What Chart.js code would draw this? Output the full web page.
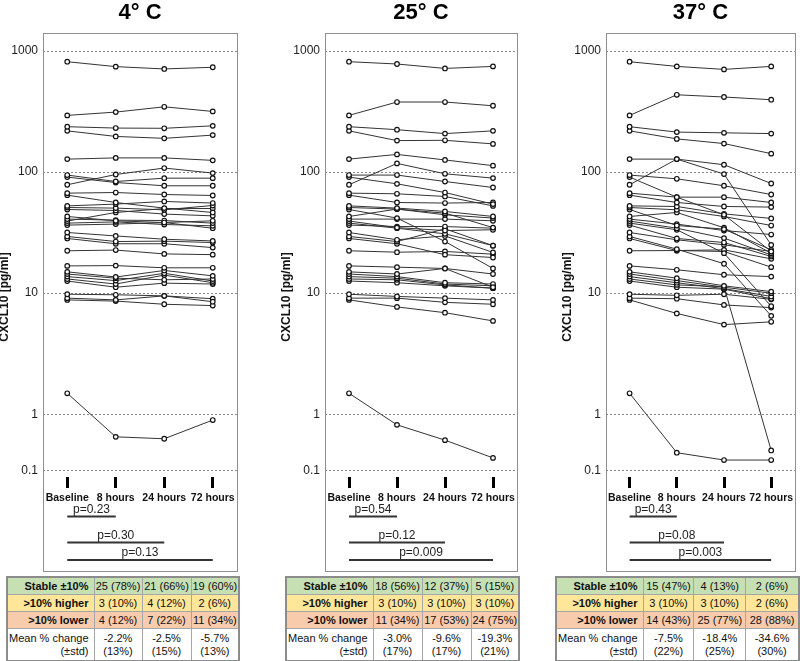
<!DOCTYPE html>
<html>
<head>
<meta charset="utf-8">
<title>CXCL10 stability by storage temperature</title>
<script src="https://cdn.jsdelivr.net/npm/chart.js@4.4.0/dist/chart.umd.min.js"></script>
<style>
  body { margin: 0; background: #fff; }
  #page { position: relative; width: 800px; height: 661px; overflow: hidden; }
  canvas.panel { position: absolute; top: 0; }
  table.stats { position: absolute; top: 576px; border-collapse: collapse; table-layout: fixed;
    font-family: 'Liberation Sans', Arial, sans-serif;
    font-size: 11px; color: #111; border: 2px solid #8c8c8c; }
  table.stats td { border: 1px solid #a6a6a6; padding: 0 1px; height: 16px; line-height: 14px;
    text-align: center; white-space: nowrap; overflow: hidden; }
  table.stats td.lab { text-align: right; padding-right: 5px; font-weight: bold; }
  table.stats tr.mean td { height: 31px; line-height: 13px; }
  table.stats tr.mean td.lab { font-weight: normal; }
  tr.stable td { background: #c6e0b4; }
  tr.higher td { background: #ffe699; }
  tr.lower td { background: #f8cbad; }
</style>
</head>
<body>
<div id="page">
  <canvas id="c4" class="panel" width="245" height="575" style="left:0px"></canvas>
  <canvas id="c25" class="panel" width="245" height="575" style="left:280px"></canvas>
  <canvas id="c37" class="panel" width="245" height="575" style="left:555px"></canvas>
</div>
<script>
// ---- data ----
var timeLabels = ["Baseline", "8 hours", "24 hours", "72 hours"];
var yTickValues = [0.1, 1, 10, 100, 1000];
var yTickLabels = ["0.1", "1", "10", "100", "1000"];

// baseline is the same sample set in all three panels (pg/ml)
var baseline = [816, 294, 237, 219, 128, 94.5, 90.9, 78.6, 67, 64.5, 52.6, 51, 49.1, 43, 40.9, 39.4, 37.9, 36.5, 31.7, 29.4, 28.3, 22.4, 16.8, 15, 14.4, 13.7, 13.1, 12.6, 9.8, 9.1, 8.8, 1.49];

// 4 C
var h8_4C  = [743, 313, 231, 197, 131, 83.6, 82.0, 95.5, 67.8, 56.1, 54.4, 50.4, 48.2, 39.6, 40.1, 46.4, 38.8, 37.2, 29.7, 26.7, 25.6, 22.7, 16.9, 13.6, 13.3, 12.7, 11.9, 11.2, 9.7, 8.8, 8.6, 0.40];
var h24_4C = [711, 346, 230, 190, 131, 89.1, 77.1, 108, 65.3, 50.4, 57.2, 48.8, 45.0, 38.3, 39.8, 50.0, 36.9, 38.3, 27.9, 26.9, 25.6, 21.1, 16.2, 15.4, 12.9, 14.6, 14.1, 12.1, 9.5, 9.5, 8.1, 0.37];
var h72_4C = [734, 317, 241, 202, 125, 89.1, 77.1, 98.1, 64.1, 46.4, 55.5, 53.0, 43.5, 39.6, 37.9, 50.0, 36.0, 34.4, 27.0, 26.2, 23.8, 20.8, 16.2, 13.9, 13.1, 12.6, 12.2, 11.9, 8.5, 9.0, 7.9, 0.79];

// 25 C
var h8_25C  = [781, 379, 224, 182, 140, 94.5, 80, 118, 66.2, 56.1, 50.4, 49.5, 41.7, 49.5, 40.9, 34.8, 34.4, 35.5, 27.6, 26.7, 25.6, 21.8, 16.4, 14.4, 13.7, 13.3, 12.9, 12.2, 9.4, 9.1, 7.7, 0.65];
var h24_25C = [718, 379, 208, 183, 126, 83.6, 67.8, 96.8, 62.9, 55.5, 47.3, 45.8, 26.7, 44.4, 40.9, 32.9, 30.9, 35.5, 29.7, 34.0, 20.8, 22.1, 16.0, 16.0, 12.2, 11.9, 11.7, 11.5, 9.1, 8.4, 6.9, 0.35];
var h72_25C = [746, 353, 219, 171, 113, 74.6, 54.4, 89.2, 52.6, 56.1, 43.0, 34.8, 16.0, 41.7, 39.6, 33.4, 24.7, 34.4, 21.7, 24.7, 19.7, 21.0, 14.4, 11.2, 11.9, 11.5, 11.0, 11.0, 8.8, 8.1, 5.9, 0.17];

// 37 C
var h8_37C  = [746, 435, 214, 188, 128, 88.0, 62.1, 128, 62.1, 56.1, 52.0, 48.8, 36.2, 46.4, 37.2, 34.4, 33.4, 28.3, 27.6, 23.1, 22.5, 22.5, 15.6, 13.3, 12.7, 12.2, 11.7, 11.2, 9.6, 9.0, 6.8, 0.21];
var h24_37C = [705, 417, 211, 172, 115, 77.1, 44.4, 96.3, 62.1, 52.0, 45.2, 43.0, 33.8, 34.7, 32.9, 28.5, 21.4, 26.2, 25.1, 17.5, 22.8, 22.1, 14.2, 11.5, 11.2, 10.9, 11.3, 10.8, 9.8, 8.0, 5.5, 0.156];
var h72_37C = [746, 396, 208, 142, 80.5, 65.3, 22.1, 25, 56.1, 51.4, 41.4, 36.2, 22.8, 21.4, 30.5, 20.7, 7.8, 20.1, 22.1, 6.5, 19.2, 16.4, 13.7, 10.3, 10.0, 9.4, 0.23, 9.0, 8.9, 7.6, 5.8, 0.156];

// p values (baseline vs 8h / 24h / 72h)
var pText_4C  = ["p=0.23", "p=0.30", "p=0.13"];
var pText_25C = ["p=0.54", "p=0.12", "p=0.009"];
var pText_37C = ["p=0.43", "p=0.08", "p=0.003"];

// summary tables
var rowLabels = ["Stable \u00b110%", ">10% higher", ">10% lower"];
var stable_4C = ["25 (78%)", "21 (66%)", "19 (60%)"];
var higher_4C = ["3 (10%)", "4 (12%)", "2 (6%)"];
var lower_4C  = ["4 (12%)", "7 (22%)", "11 (34%)"];
var mean_4C   = ["-2.2%", "-2.5%", "-5.7%"];
var std_4C    = ["(13%)", "(15%)", "(13%)"];

var stable_25C = ["18 (56%)", "12 (37%)", "5 (15%)"];
var higher_25C = ["3 (10%)", "3 (10%)", "3 (10%)"];
var lower_25C  = ["11 (34%)", "17 (53%)", "24 (75%)"];
var mean_25C   = ["-3.0%", "-9.6%", "-19.3%"];
var std_25C    = ["(17%)", "(17%)", "(21%)"];

var stable_37C = ["15 (47%)", "4 (13%)", "2 (6%)"];
var higher_37C = ["3 (10%)", "3 (10%)", "2 (6%)"];
var lower_37C  = ["14 (43%)", "25 (77%)", "28 (88%)"];
var mean_37C   = ["-7.5%", "-18.4%", "-34.6%"];
var std_37C    = ["(22%)", "(25%)", "(30%)"];

// ---- axis: log scale where the 0.1-1 decade is squeezed ----
var LOW_DECADE = 0.4686; // the 0.1..1 decade is drawn at ~47% height
function toPos(v) {
  return v >= 1 ? Math.log10(v) : LOW_DECADE * Math.log10(v);
}
var Y_MIN = -LOW_DECADE - 6 / 121; // a few px under the 0.1 line
var Y_MAX = 3 + 18 / 121;          // box top above the 1000 line

var BOX_TOP = 33, BOX_BOTTOM = 571;
var SANS = "'Liberation Sans', Arial, sans-serif";

var panelDecor = {//draws frame, title, y title and the p-value brackets
  id: 'panelDecor',
  afterDraw: function (chart, args, opts) {
    var ctx = chart.ctx, area = chart.chartArea, xs = chart.scales.x;
    ctx.save();
    ctx.strokeStyle = '#8f8f8f';
    ctx.lineWidth = 1;
    ctx.strokeRect(Math.round(area.left) + 0.5, BOX_TOP + 0.5, Math.round(area.right - area.left), BOX_BOTTOM - BOX_TOP);

    ctx.fillStyle = '#000';
    ctx.textAlign = 'center';
    ctx.textBaseline = 'middle';
    ctx.font = 'bold 22px ' + SANS;
    ctx.fillText(opts.title, (area.left + area.right) / 2, 13);

    ctx.save();
    ctx.translate(area.left - 38, 297);
    ctx.rotate(-Math.PI / 2);
    ctx.font = 'bold 12px ' + SANS;
    ctx.fillStyle = '#111';
    ctx.fillText('CXCL10 [pg/ml]', 0, 0);
    ctx.restore();

    var barY = [516.5, 542.5, 560];
    ctx.strokeStyle = '#333';
    ctx.lineWidth = 2;
    ctx.font = '12px ' + SANS;
    ctx.textBaseline = 'alphabetic';
    ctx.fillStyle = '#222';
    for (var i = 0; i < opts.pText.length; i++) {
      var x0 = xs.getPixelForValue(0), x1 = xs.getPixelForValue(i + 1);
      ctx.beginPath();
      ctx.moveTo(x0, barY[i]);
      ctx.lineTo(x1, barY[i]);
      ctx.stroke();
      ctx.fillText(opts.pText[i], (x0 + x1) / 2, barY[i] - 4);
    }
    ctx.restore();
  }
};

function makePanel(canvasId, title, h8, h24, h72, pText, axisW, padRight) {
  var datasets = [];
  for (var i = 0; i < baseline.length; i++) {
    datasets.push({
      data: [baseline[i], h8[i], h24[i], h72[i]].map(toPos),
      borderColor: '#333',
      borderWidth: 1,
      pointRadius: 2.3,
      pointBorderWidth: 1.2,
      pointBorderColor: '#111',
      pointBackgroundColor: '#fff',
      fill: false,
      tension: 0
    });
  }
  return new Chart(document.getElementById(canvasId), {
    type: 'line',
    data: { labels: timeLabels, datasets: datasets },
    options: {
      responsive: false,
      animation: false,
      layout: { padding: { top: BOX_TOP, right: padRight, bottom: 68, left: 0 } },
      plugins: {
        legend: { display: false },
        tooltip: { enabled: false },
        panelDecor: { title: title, pText: pText }
      },
      scales: {
        x: {
          offset: true,
          grid: { display: true, offset: false, drawOnChartArea: false, drawTicks: true, tickLength: 11, tickWidth: 3, tickColor: '#000' },
          border: { display: false },
          ticks: { padding: 4, color: '#111', font: { family: SANS, size: 10.5, weight: 'bold' }, maxRotation: 0, autoSkip: false },
          afterFit: function (scale) { scale.height = 30; }
        },
        y: {
          type: 'linear',
          min: Y_MIN,
          max: Y_MAX,
          afterBuildTicks: function (scale) {
            scale.ticks = yTickValues.map(function (v) { return { value: toPos(v) }; });
          },
          afterFit: function (scale) { scale.width = axisW; },
          grid: { color: '#8a8a8a', lineWidth: 1, drawTicks: false, borderDash: [2, 2] },
          border: { display: false, dash: [2, 2] },
          ticks: {
            padding: 5,
            color: '#222',
            font: { family: SANS, size: 12 },
            callback: function (value, index) { return yTickLabels[index]; }
          }
        }
      }
    },
    plugins: [panelDecor]
  });
}

function buildTable(left, colWidths, stable, higher, lower, mean, std) {
  var t = document.createElement('table');
  t.className = 'stats';
  t.style.left = left + 'px';
  var html = '<colgroup>';
  colWidths.forEach(function (w) { html += '<col style="width:' + w + 'px">'; });
  html += '</colgroup>';
  var rows = [stable, higher, lower], cls = ['stable', 'higher', 'lower'];
  for (var r = 0; r < 3; r++) {
    html += '<tr class="' + cls[r] + '"><td class="lab">' + rowLabels[r] + '</td>';
    rows[r].forEach(function (c) { html += '<td>' + c + '</td>'; });
    html += '</tr>';
  }
  html += '<tr class="mean"><td class="lab">Mean % change<br>(\u00b1std)</td>';
  for (var k = 0; k < mean.length; k++) html += '<td>' + mean[k] + '<br>' + std[k] + '</td>';
  html += '</tr>';
  t.innerHTML = html;
  document.getElementById('page').appendChild(t);
}

makePanel('c4', '4\u00b0 C', h8_4C, h24_4C, h72_4C, pText_4C, 43, 8);
makePanel('c25', '25\u00b0 C', h8_25C, h24_25C, h72_25C, pText_25C, 45, 8);
makePanel('c37', '37\u00b0 C', h8_37C, h24_37C, h72_37C, pText_37C, 51, 2);

buildTable(6, [86, 48, 49, 48], stable_4C, higher_4C, lower_4C, mean_4C, std_4C);
buildTable(285, [86, 49, 49, 48], stable_25C, higher_25C, lower_25C, mean_25C, std_25C);
buildTable(555, [83, 52, 53, 55], stable_37C, higher_37C, lower_37C, mean_37C, std_37C);
</script>
</body>
</html>
